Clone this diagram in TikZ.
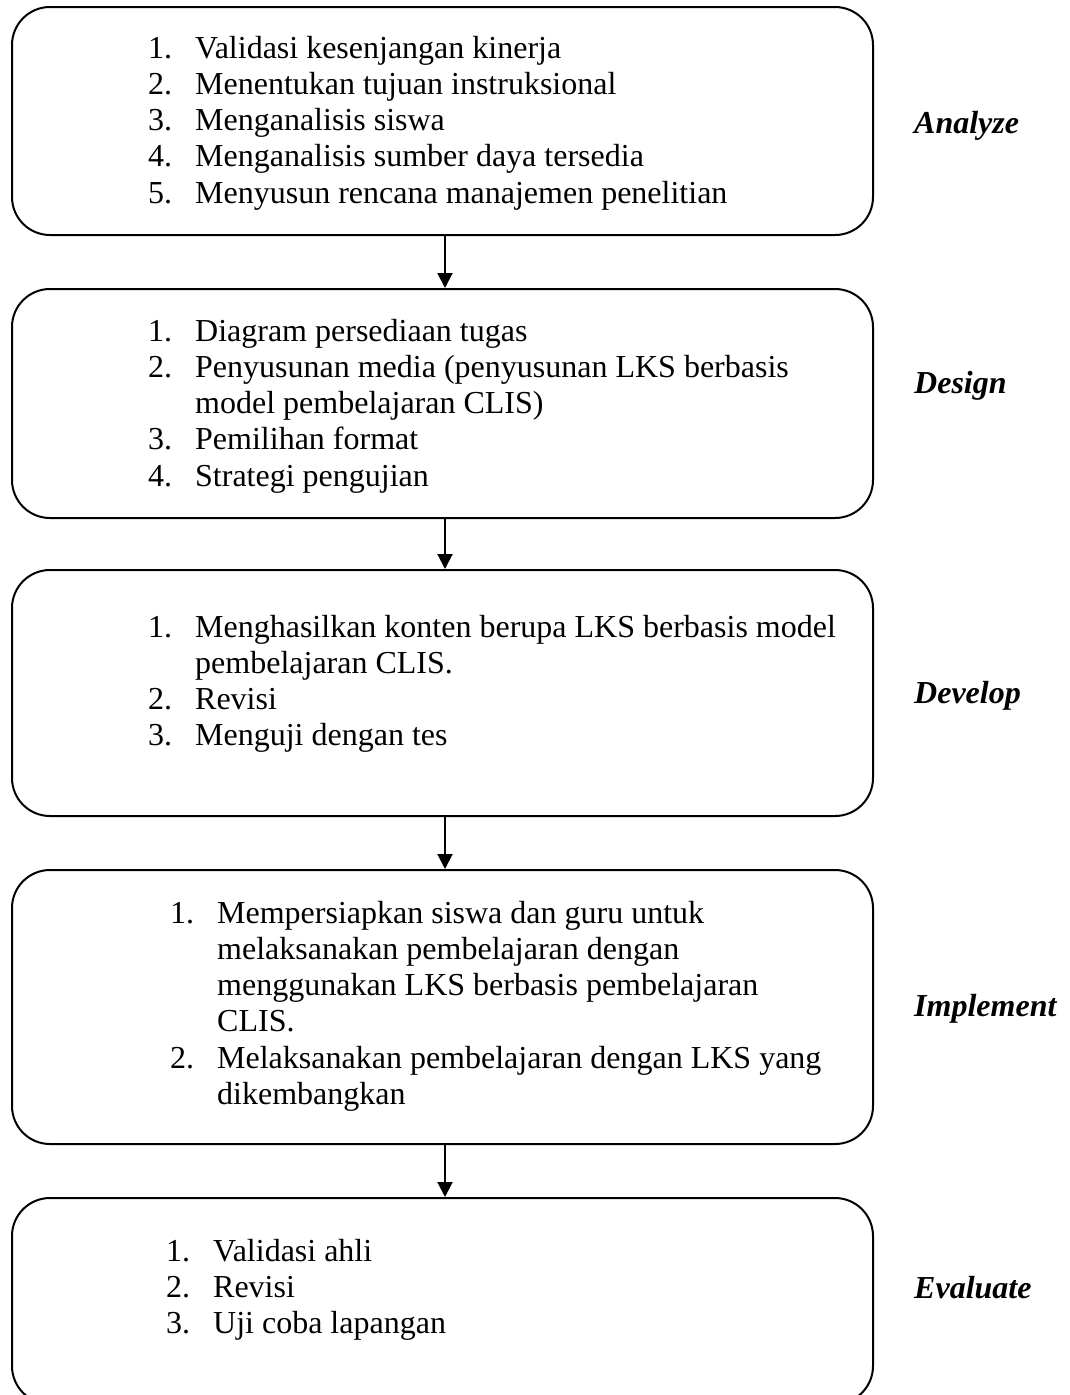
\documentclass[tikz,border=0pt]{standalone}
\usepackage{fontspec}
\setmainfont{Liberation Serif}
\usetikzlibrary{arrows.meta}
\tikzset{
  stage/.style={draw, line width=2pt, rounded corners=38pt, inner sep=0pt, rectangle},
  items/.style={anchor=base west, inner sep=0pt},
  phase/.style={anchor=base west, inner sep=0pt, font=\fontsize{32}{36.3}\selectfont\bfseries\itshape},
  flow/.style={line width=2pt, -{Triangle[length=15pt,width=15pt]}}
}
\newcommand{\lst}[1]{\begin{tabular}[t]{@{}p{47pt}@{}l@{}}#1\end{tabular}}
\begin{document}
\begin{tikzpicture}[x=1pt,y=-1pt,font=\fontsize{32}{36.3}\selectfont]
\useasboundingbox (0,0) rectangle (1069,1395);
\clip (0,0) rectangle (1069,1395);
% boxes
\node[stage, minimum width=861pt, minimum height=228pt] (b1) at (442.5,121) {};
\node[stage, minimum width=861pt, minimum height=229pt] (b2) at (442.5,403.5) {};
\node[stage, minimum width=861pt, minimum height=246pt] (b3) at (442.5,693) {};
\node[stage, minimum width=861pt, minimum height=274pt] (b4) at (442.5,1007) {};
\node[stage, minimum width=861pt, minimum height=206pt] (b5) at (442.5,1301) {};
% texts
\node[items] (t1) at (148,58) {\lst{1. & Validasi kesenjangan kinerja\\
2. & Menentukan tujuan instruksional\\
3. & Menganalisis siswa\\
4. & Menganalisis sumber daya tersedia\\
5. & Menyusun rencana manajemen penelitian}};
\node[items] (t2) at (148,341) {\lst{1. & Diagram persediaan tugas\\
2. & Penyusunan media (penyusunan LKS berbasis\\
 & model pembelajaran CLIS)\\
3. & Pemilihan format\\
4. & Strategi pengujian}};
\node[items] (t3) at (148,637) {\lst{1. & Menghasilkan konten berupa LKS berbasis model\\
 & pembelajaran CLIS.\\
2. & Revisi\\
3. & Menguji dengan tes}};
\node[items] (t4) at (170,923) {\lst{1. & Mempersiapkan siswa dan guru untuk\\
 & melaksanakan pembelajaran dengan\\
 & menggunakan LKS berbasis pembelajaran\\
 & CLIS.\\
2. & Melaksanakan pembelajaran dengan LKS yang\\
 & dikembangkan}};
\node[items] (t5) at (166,1261) {\lst{1. & Validasi ahli\\
2. & Revisi\\
3. & Uji coba lapangan}};
% phase labels
\node[phase] (p1) at (914,133) {Analyze};
\node[phase] (p2) at (914,393) {Design};
\node[phase] (p3) at (914,703) {Develop};
\node[phase] (p4) at (914,1016) {Implement};
\node[phase] (p5) at (914,1298) {Evaluate};
% arrows
\draw[flow] ([xshift=2.5pt]b1.south) -- ([xshift=2.5pt]b2.north);
\draw[flow] ([xshift=2.5pt]b2.south) -- ([xshift=2.5pt]b3.north);
\draw[flow] ([xshift=2.5pt]b3.south) -- ([xshift=2.5pt]b4.north);
\draw[flow] ([xshift=2.5pt]b4.south) -- ([xshift=2.5pt]b5.north);
\end{tikzpicture}
\end{document}
